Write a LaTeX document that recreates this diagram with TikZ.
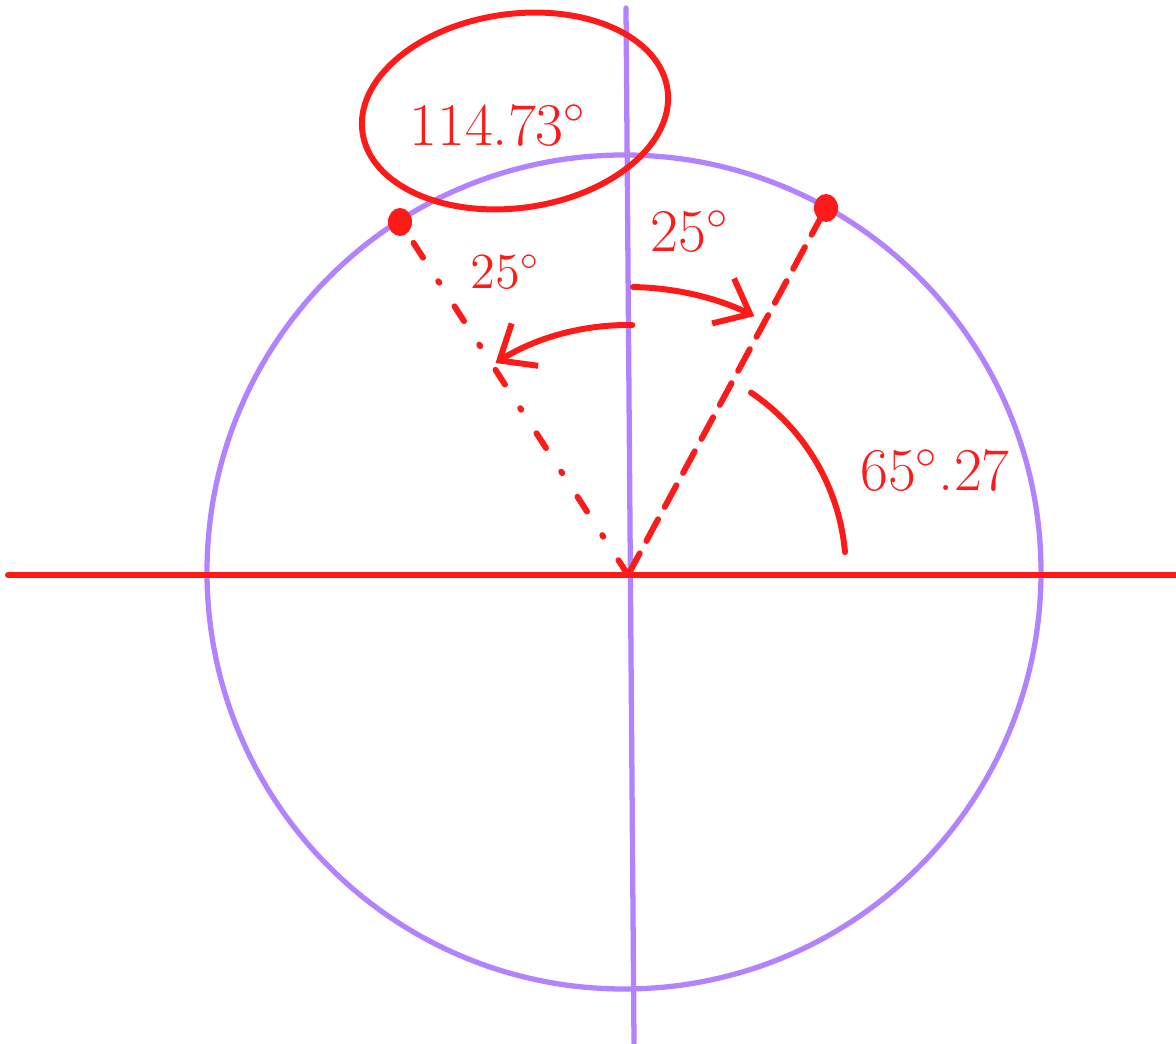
\documentclass[tikz,border=0pt]{standalone}
\usepackage{tikz}
\usetikzlibrary{arrows.meta}
\usepackage{xcolor}
\definecolor{inkred}{HTML}{FF1A1A}
\definecolor{axisviolet}{HTML}{B383FF}
\begin{document}
\begin{tikzpicture}[>={Straight Barb[length=3mm,width=5mm]},line cap=round,
  ink/.style={inkred,line width=1.7pt},
  guide/.style={axisviolet,line width=1.5pt},
  lbl/.style={inkred,font=\LARGE}]
\useasboundingbox (-6.28,-4.68) rectangle (5.48,5.75);
\coordinate (O) at (0,0);
\coordinate (xl) at (-6.20,0);
\coordinate (xr) at (5.48,0);
\coordinate (vtop) at (-0.02,5.67);
\coordinate (vbot) at (0.06,-4.68);
\coordinate (P) at (-2.28,3.53);
\coordinate (Q) at (1.98,3.67);
\draw[guide] (-0.04,0.03) circle (4.17);
\draw[guide] (vtop) -- (vbot);
\draw[ink] (xl) -- (xr);
\draw[ink,dash pattern=on 5pt off 8pt on 0.5pt off 8pt] (O) -- (P);
\draw[ink,dash pattern=on 7pt off 4pt] (O) -- (Q);
\fill[inkred] (P) ellipse (0.12 and 0.14);
\fill[inkred] (Q) ellipse (0.12 and 0.14);
\draw[ink,->] (O) ++(89:2.88) arc[start angle=89,end angle=64,radius=2.88];
\draw[ink,->] (O) ++(89:2.50) arc[start angle=89,end angle=122,radius=2.50];
\draw[ink] (O) ++(56:2.20) arc[start angle=56,end angle=5,radius=2.15];
\node[lbl] (rightangle) at (0.62,3.43) {25$^\circ$};
\node[lbl,font=\Large] (leftangle) at (-1.23,3.03) {25$^\circ$};
\node[lbl] (acute) at (3.07,1.05) {65$^\circ$.27};
\node[lbl] (obtuse) at (-1.30,4.50) {114.73$^\circ$};
\begin{scope}[shift={(-1.13,4.64)},rotate=8]
\draw[ink] (0,0) ellipse (1.54 and 0.97);
\end{scope}
\end{tikzpicture}
\end{document}
